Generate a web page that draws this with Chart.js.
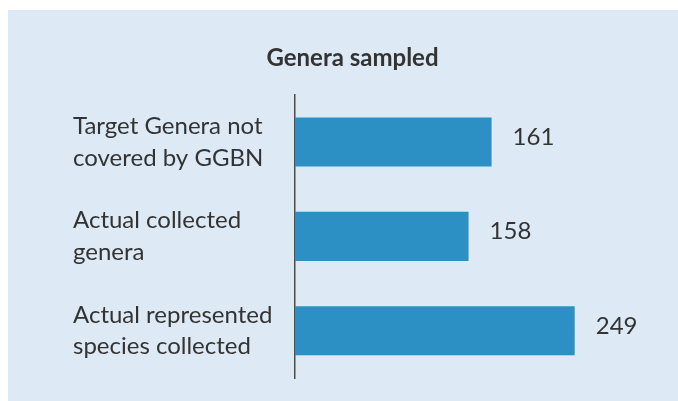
<!DOCTYPE html>
<html>
<head>
<meta charset="utf-8">
<script src="https://cdn.jsdelivr.net/npm/chart.js@4/dist/chart.umd.min.js"></script>
<style>
  html, body { margin: 0; padding: 0; background: #ffffff; }
  #wrap { width: 678px; height: 401px; position: relative; }
</style>
</head>
<body>
<div id="wrap"><canvas id="c" width="678" height="401"></canvas></div>
<script>
// Category labels (two lines each)
const categories = [
  ["Target Genera not", "covered by GGBN"],
  ["Actual collected", "genera"],
  ["Actual represented", "species collected"]
];
// Bar lengths (scaled so the last bar = 249)
const barValues = [175, 154.5, 249];
// Numbers printed next to each bar
const valueLabels = ["161", "158", "249"];
const chartTitle = "Genera sampled";

const FONT = "Lato, 'Open Sans', 'DejaVu Sans', sans-serif";
const TEXT = "#333333";

const panelBg = {
  id: 'panelBg',
  beforeDraw(chart) {
    const ctx = chart.ctx;
    ctx.save();
    ctx.fillStyle = '#dde9f5';
    ctx.fillRect(8, 10, chart.width - 8, chart.height - 10);
    ctx.restore();
  }
};

const valueLabelPlugin = {
  id: 'valueLabels',
  afterDatasetsDraw(chart) {
    const ctx = chart.ctx;
    const meta = chart.getDatasetMeta(0);
    ctx.save();
    ctx.fillStyle = TEXT;
    ctx.font = "24px " + FONT;
    ctx.textAlign = 'left';
    ctx.textBaseline = 'middle';
    meta.data.forEach((bar, i) => {
      ctx.fillText(valueLabels[i], bar.x + 21, bar.y - 5);
    });
    ctx.restore();
  }
};

new Chart(document.getElementById('c'), {
  type: 'bar',
  data: {
    labels: categories,
    datasets: [{
      data: barValues,
      backgroundColor: '#2c90c5',
      borderWidth: 0,
      barPercentage: 1,
      categoryPercentage: 0.52
    }]
  },
  options: {
    indexAxis: 'y',
    responsive: false,
    animation: false,
    layout: { padding: { top: 10, left: 73, right: 46, bottom: 23 } },
    plugins: {
      legend: { display: false },
      tooltip: { enabled: false },
      title: {
        display: true,
        text: chartTitle,
        color: TEXT,
        font: { family: FONT, size: 24, weight: 'bold', lineHeight: 1.2 },
        padding: { top: 34, bottom: 22 }
      }
    },
    scales: {
      x: {
        display: false,
        min: 0,
        max: 300
      },
      y: {
        grid: { display: false, drawTicks: false },
        border: { display: true, color: '#4d4d4d', width: 1.5 },
        ticks: {
          crossAlign: 'far',
          padding: 0,
          color: TEXT,
          font: { family: FONT, size: 24, lineHeight: 1.32 }
        },
        afterFit(scale) {
          scale.width = 222;
          scale.paddingTop = 0;
          scale.paddingBottom = 0;
        }
      }
    }
  },
  plugins: [panelBg, valueLabelPlugin]
});
</script>
</body>
</html>
